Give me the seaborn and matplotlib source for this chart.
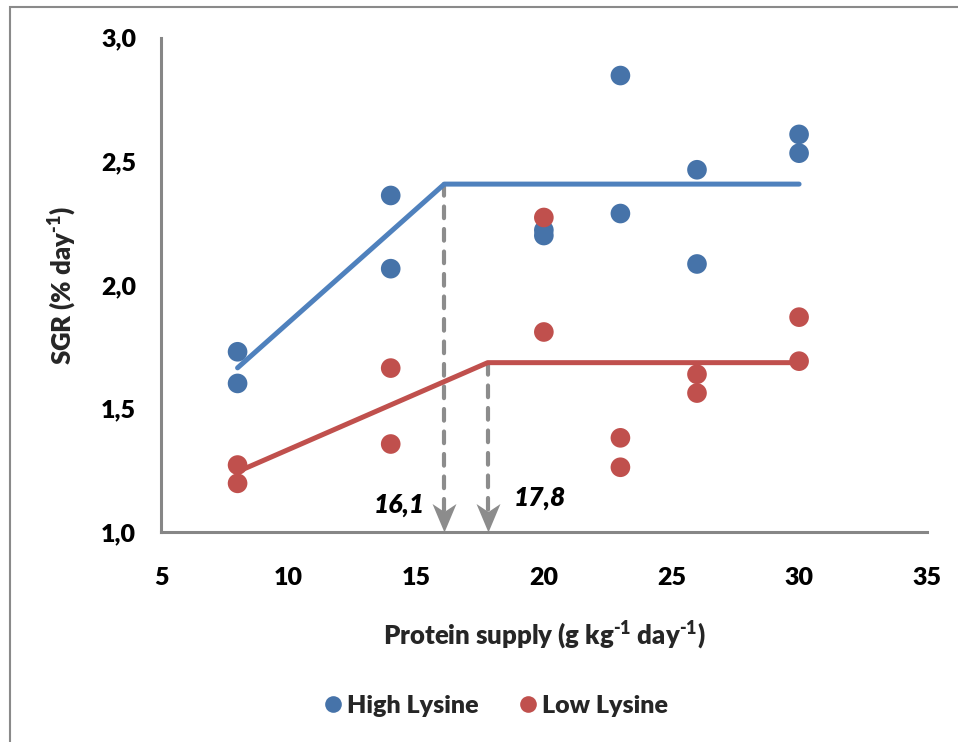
import numpy as np
import pandas as pd
import matplotlib
matplotlib.use("Agg")
import matplotlib.pyplot as plt
from matplotlib.path import Path
from matplotlib.patches import Rectangle
import seaborn as sns

# Protein supply levels (g kg-1 day-1), two tanks per level
protein_supply = [8, 14, 20, 23, 26, 30]

# SGR (% day-1) for each replicate
high_lys_rep1 = [1.730, 2.362, 2.222, 2.847, 2.466, 2.609]
high_lys_rep2 = [1.602, 2.066, 2.200, 2.289, 2.085, 2.533]
low_lys_rep1 = [1.272, 1.664, 2.273, 1.382, 1.639, 1.870]
low_lys_rep2 = [1.198, 1.357, 1.810, 1.263, 1.563, 1.692]

# Broken-line (plateau) fits: start, breakpoint, end
high_fit_x = [8, 16.1, 30]
high_fit_y = [1.665, 2.408, 2.408]
low_fit_x = [8, 17.8, 30]
low_fit_y = [1.245, 1.686, 1.686]

groups = ["High Lysine", "Low Lysine"]
x_ticks = [5, 10, 15, 20, 25, 30, 35]
y_ticks = [1.0, 1.5, 2.0, 2.5, 3.0]

sns.set_style("white")
WEIGHT = "heavy"
plt.rcParams["font.family"] = ["Lato", "DejaVu Sans"]
plt.rcParams["font.weight"] = WEIGHT
plt.rcParams["mathtext.fontset"] = "custom"
plt.rcParams["mathtext.rm"] = "Lato:heavy"
plt.rcParams["mathtext.bf"] = "Lato:heavy"
plt.rcParams["mathtext.it"] = "Lato:heavy:italic"
plt.rcParams["mathtext.default"] = "rm"

df = pd.DataFrame({
    "supply": protein_supply * 4,
    "sgr": high_lys_rep1 + high_lys_rep2 + low_lys_rep1 + low_lys_rep2,
    "group": [groups[0]] * 12 + [groups[1]] * 12,
})

W, H = 958, 742
fig = plt.figure(figsize=(W / 100, H / 100), dpi=100)
ax_left, ax_right = 161 / W, 926.7 / W
ax_bottom, ax_top = 1 - 532.3 / H, 1 - 37.7 / H
ax = fig.add_axes([ax_left, ax_bottom, ax_right - ax_left, ax_top - ax_bottom])

# outer chart frame
fig.patches.append(Rectangle((10 / W, -0.1), 1.2, 1 - 7 / H + 0.1,
                             transform=fig.transFigure, fill=False,
                             edgecolor="#8a8a8a", linewidth=1.5, zorder=0))

axis_gray = "#868686"
dash_gray = "#8c8c8c"
blue_line = "#4f81bd"
red_line = "#c0504d"
palette = {groups[0]: "#4673a9", groups[1]: "#c0504d"}

# fitted plateau lines
for fx, fy, col in [(high_fit_x, high_fit_y, blue_line), (low_fit_x, low_fit_y, red_line)]:
    sns.lineplot(x=fx, y=fy, ax=ax, color=col, linewidth=3.6, sort=False,
                 estimator=None, solid_capstyle="round", zorder=2)

# breakpoints: dashed drop lines with arrowheads
head = Path([(0, 0), (-0.42, 1.0), (0, 0.72), (0.42, 1.0), (0, 0)],
            [Path.MOVETO, Path.LINETO, Path.LINETO, Path.LINETO, Path.CLOSEPOLY])
for fx, fy in [(high_fit_x, high_fit_y), (low_fit_x, low_fit_y)]:
    bp, level = fx[1], fy[1]
    ax.plot([bp, bp], [level, 1.07], color=dash_gray, linewidth=3.0,
            dashes=(2.8, 2.6), dash_capstyle="round", zorder=1.5)
    ax.plot([bp], [1.0], marker=head, markersize=41, color=dash_gray,
            markeredgewidth=0, linestyle="none", zorder=1.6, clip_on=False)

bp_hi, bp_lo = high_fit_x[1], low_fit_x[1]
ax.text(bp_hi - 0.75, 1.110, f"{bp_hi:.1f}".replace(".", ","), ha="right", va="center",
        fontsize=19, fontweight=WEIGHT, fontstyle="italic", color="black")
ax.text(bp_lo + 1.0, 1.139, f"{bp_lo:.1f}".replace(".", ","), ha="left", va="center",
        fontsize=19, fontweight=WEIGHT, fontstyle="italic", color="black")

# observations
sns.scatterplot(data=df, x="supply", y="sgr", hue="group", hue_order=groups,
                palette=palette, s=200, linewidth=0, ax=ax, zorder=3, legend=True)

ax.set_xlim(5, 35)
ax.set_ylim(1.0, 3.0)
ax.set_xticks(x_ticks)
ax.set_xticklabels([str(t) for t in x_ticks])
ax.set_yticks(y_ticks)
ax.set_yticklabels([f"{t:.1f}".replace(".", ",") for t in y_ticks])

for side in ["top", "right"]:
    ax.spines[side].set_visible(False)
for side in ["left", "bottom"]:
    ax.spines[side].set_color(axis_gray)
    ax.spines[side].set_linewidth(2.2)
ax.tick_params(axis="both", direction="out", length=8, width=2.2, color=axis_gray,
               labelsize=18, labelcolor="black")
ax.tick_params(axis="y", pad=10)
ax.tick_params(axis="x", pad=17)
for lab in ax.get_xticklabels() + ax.get_yticklabels():
    lab.set_fontweight(WEIGHT)

ax.set_xlabel(r"Protein supply (g kg$^{\text{-1}}$ day$^{\text{-1}}$)", fontsize=18.5,
              fontweight=WEIGHT)
ax.set_ylabel(r"SGR (% day$^{\text{-1}}$)", fontsize=18.5, fontweight=WEIGHT)
ax.xaxis.set_label_coords(0.5, -0.176)
ax.yaxis.label.set_va("center")
ax.yaxis.set_label_coords(-0.128, 0.5)

handles, labels = ax.get_legend_handles_labels()
ax.get_legend().remove()
for hd in handles:
    hd.set_markersize(12)
fig.legend(handles, labels, loc="center", bbox_to_anchor=(0.516, 1 - 706 / H), ncol=2,
           frameon=False, handletextpad=0.05, columnspacing=1.5,
           handlelength=1.0, prop={"family": "Lato", "weight": WEIGHT, "size": 18})

fig.savefig("out.png", dpi=100)
